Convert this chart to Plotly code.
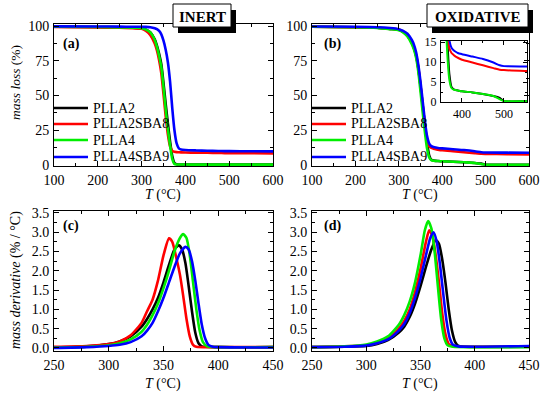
import plotly.graph_objects as go

W, H = 550, 393
FONT = "Liberation Serif"

series_names = ["PLLA2", "PLLA2SBA8", "PLLA4", "PLLA4SBA9"]
series_colors = ["#000000", "#ff0000", "#00ee00", "#0000ff"]

# ---- TGA (mass loss %) ----
T_tga = [100, 200, 250, 280, 300, 310, 320, 330, 335, 340, 345, 350, 355, 360, 365,
         370, 375, 380, 385, 390, 400, 425, 450, 475, 490, 500, 550, 600]

inert_PLLA2 = [99.5, 99.3, 99.1, 98.8, 98.5, 97.5, 95.5, 90.5, 86, 80, 72.5, 59, 44, 30, 17,
               6.5, 1.5, 0.5, 0.4, 0.4, 0.4, 0.35, 0.3, 0.3, 0.3, 0.3, 0.3, 0.3]
inert_PLLA2SBA8 = [99.3, 99.0, 98.8, 98.4, 98.0, 96.5, 93.5, 87.5, 82.5, 75.5, 66, 51, 35, 22, 13.5,
                   10.2, 9.5, 9.3, 9.2, 9.1, 9.0, 8.9, 8.8, 8.7, 8.6, 8.6, 8.5, 8.4]
inert_PLLA4 = [99.5, 99.3, 99.1, 98.8, 98.5, 97.5, 95.5, 90, 85, 78.5, 70.5, 56, 40, 26, 14,
               4.5, 0.8, 0.4, 0.35, 0.35, 0.35, 0.3, 0.3, 0.3, 0.3, 0.3, 0.3, 0.3]
inert_PLLA4SBA9 = [99.8, 99.7, 99.6, 99.5, 99.5, 99.4, 99.2, 98.5, 97.8, 96.5, 94, 89.5, 83, 74, 60,
                   41, 25, 15.5, 12, 11.2, 10.8, 10.5, 10.3, 10.1, 10.0, 10.0, 9.9, 9.8]

oxid_PLLA2 = [99.5, 99.2, 98.8, 98.0, 97.3, 95.8, 93, 88, 84, 78.5, 69.5, 57, 43, 29, 16,
              7, 3.8, 3.2, 3.0, 2.9, 2.7, 2.4, 2.0, 1.5, 1.0, 0.25, 0.2, 0.2]
oxid_PLLA2SBA8 = [99.5, 99.2, 98.8, 98.0, 97.5, 96, 93.5, 88.5, 84.5, 79, 70, 57, 43, 29, 18,
                  13.5, 12.3, 11.8, 11.4, 11.1, 10.6, 9.9, 9.2, 8.5, 8.1, 8.0, 7.8, 7.7]
oxid_PLLA4 = [99.5, 99.2, 98.7, 97.8, 97.0, 95.5, 92.5, 87, 83, 77, 67, 53, 38, 24, 12,
              5.5, 3.5, 3.1, 3.0, 2.9, 2.7, 2.4, 2.0, 1.5, 0.7, 0.25, 0.2, 0.2]
oxid_PLLA4SBA9 = [99.7, 99.5, 99.2, 98.6, 97.8, 96.5, 94.5, 90, 86.5, 81, 72, 60, 46, 32, 21,
                  15.5, 13.6, 13.0, 12.6, 12.3, 12.0, 11.4, 10.8, 9.9, 9.2, 9.0, 8.9, 8.8]

# ---- DTG (mass derivative %/°C) ----
T_c_PLLA2 = [250, 280, 300, 310, 320, 330, 335, 340, 345, 350, 355, 360, 364, 367, 370, 373, 376, 379, 382, 385, 400, 450]
c_PLLA2 = [0.01, 0.04, 0.1, 0.17, 0.3, 0.55, 0.75, 1.0, 1.3, 1.7, 2.15, 2.55, 2.66, 2.55, 2.2, 1.6, 0.95, 0.4, 0.12, 0.04, 0.02, 0.02]
T_c_PLLA2SBA8 = [250, 280, 300, 310, 320, 330, 335, 340, 345, 350, 355, 358, 362, 365, 368, 371, 374, 377, 380, 400, 450]
c_PLLA2SBA8 = [0.03, 0.05, 0.1, 0.17, 0.33, 0.65, 0.95, 1.25, 1.75, 2.4, 2.84, 2.75, 2.3, 1.9, 1.35, 0.75, 0.3, 0.08, 0.03, 0.02, 0.02]
T_c_PLLA4 = [250, 280, 300, 310, 320, 330, 335, 340, 345, 350, 355, 360, 365, 368, 371, 374, 377, 380, 383, 386, 390, 400, 450]
c_PLLA4 = [0.01, 0.03, 0.07, 0.12, 0.22, 0.42, 0.6, 0.85, 1.15, 1.55, 2.0, 2.5, 2.85, 2.95, 2.85, 2.4, 1.7, 1.0, 0.45, 0.15, 0.04, 0.02, 0.02]
T_c_PLLA4SBA9 = [250, 280, 300, 310, 320, 330, 335, 340, 345, 350, 355, 360, 365, 370, 373, 376, 379, 382, 385, 388, 391, 395, 400, 450]
c_PLLA4SBA9 = [0.0, 0.02, 0.05, 0.08, 0.15, 0.3, 0.45, 0.65, 0.95, 1.3, 1.7, 2.1, 2.45, 2.62, 2.55, 2.25, 1.75, 1.15, 0.6, 0.25, 0.08, 0.03, 0.02, 0.01]

T_d_PLLA2 = [250, 280, 300, 310, 320, 330, 335, 340, 345, 350, 355, 360, 364, 367, 370, 373, 376, 379, 382, 385, 390, 450]
d_PLLA2 = [0.02, 0.03, 0.05, 0.1, 0.2, 0.4, 0.55, 0.8, 1.15, 1.6, 2.1, 2.55, 2.8, 2.7, 2.3, 1.7, 1.0, 0.45, 0.15, 0.05, 0.03, 0.03]
T_d_PLLA2SBA8 = [250, 280, 300, 310, 320, 330, 335, 340, 345, 350, 355, 358, 361, 364, 367, 370, 373, 376, 380, 400, 450]
d_PLLA2SBA8 = [0.02, 0.04, 0.07, 0.13, 0.25, 0.5, 0.7, 1.0, 1.45, 2.05, 2.75, 3.05, 2.9, 2.4, 1.7, 0.9, 0.35, 0.1, 0.04, 0.03, 0.03]
T_d_PLLA4 = [250, 280, 300, 310, 320, 330, 335, 340, 345, 350, 354, 357, 360, 363, 366, 369, 372, 375, 380, 400, 450]
d_PLLA4 = [0.02, 0.04, 0.09, 0.17, 0.3, 0.6, 0.85, 1.2, 1.7, 2.4, 3.05, 3.29, 3.1, 2.5, 1.6, 0.75, 0.25, 0.07, 0.03, 0.02, 0.02]
T_d_PLLA4SBA9 = [250, 280, 300, 310, 320, 330, 335, 340, 345, 350, 355, 359, 362, 365, 368, 371, 374, 377, 380, 385, 400, 450]
d_PLLA4SBA9 = [0.02, 0.03, 0.06, 0.12, 0.22, 0.45, 0.62, 0.9, 1.3, 1.8, 2.4, 2.85, 3.0, 2.75, 2.15, 1.4, 0.7, 0.25, 0.08, 0.04, 0.03, 0.05]

# tick values / labels
tga_xticks = [100, 200, 300, 400, 500, 600]
tga_yticks = [0, 25, 50, 75, 100]
dtg_xticks = [250, 300, 350, 400, 450]
dtg_yticks = [0.0, 0.5, 1.0, 1.5, 2.0, 2.5, 3.0, 3.5]
inset_xticks = [400, 500]
inset_yticks = [0, 5, 10, 15]


def px(x):
    return x / W


def py(y):
    return 1 - y / H


fig = go.Figure()

inert = [inert_PLLA2, inert_PLLA2SBA8, inert_PLLA4, inert_PLLA4SBA9]
oxid = [oxid_PLLA2, oxid_PLLA2SBA8, oxid_PLLA4, oxid_PLLA4SBA9]
cT = [T_c_PLLA2, T_c_PLLA2SBA8, T_c_PLLA4, T_c_PLLA4SBA9]
cV = [c_PLLA2, c_PLLA2SBA8, c_PLLA4, c_PLLA4SBA9]
dT = [T_d_PLLA2, T_d_PLLA2SBA8, T_d_PLLA4, T_d_PLLA4SBA9]
dV = [d_PLLA2, d_PLLA2SBA8, d_PLLA4, d_PLLA4SBA9]

LW = 2.6
for i, name in enumerate(series_names):
    col = series_colors[i]
    line = dict(color=col, width=LW, shape="spline", smoothing=0.6)
    fig.add_trace(go.Scatter(x=T_tga, y=inert[i], mode="lines", name=name, line=line,
                             xaxis="x", yaxis="y", showlegend=False))
    fig.add_trace(go.Scatter(x=T_tga, y=oxid[i], mode="lines", name=name, line=line,
                             xaxis="x2", yaxis="y2", showlegend=False))
    fig.add_trace(go.Scatter(x=cT[i], y=cV[i], mode="lines", name=name, line=line,
                             xaxis="x3", yaxis="y3", showlegend=False))
    fig.add_trace(go.Scatter(x=dT[i], y=dV[i], mode="lines", name=name, line=line,
                             xaxis="x4", yaxis="y4", showlegend=False))
    fig.add_trace(go.Scatter(x=T_tga, y=oxid[i], mode="lines", name=name,
                             line=dict(color=col, width=2, shape="spline", smoothing=0.6),
                             xaxis="x5", yaxis="y5", showlegend=False))

tickfont = dict(family=FONT, size=14, color="black")


def ax(domain, rng, tickvals, minor_dtick, anchor, fmt=None, font=tickfont, ticklen=5, mlen=3):
    d = dict(domain=domain, range=rng, tickmode="array", tickvals=tickvals,
             ticks="inside", ticklen=ticklen, tickwidth=1, tickcolor="black",
             showline=True, linecolor="black", linewidth=1, mirror="ticks",
             showgrid=False, zeroline=False, tickfont=font, anchor=anchor,
             automargin=False, ticklabelstandoff=1,
             minor=dict(ticks="inside", ticklen=mlen, tickwidth=1, tickcolor="black",
                        dtick=minor_dtick, showgrid=False),
             fixedrange=True)
    if fmt:
        d["tickformat"] = fmt
    return d


# panel pixel boxes
A = (54, 273, 24, 166)
B = (312, 529, 24, 166)
C = (54, 273, 211, 351)
D = (312, 529, 211, 351)
I = (441, 527, 41, 102)


def xd(b):
    return [px(b[0]), px(b[1])]


def yd(b):
    return [py(b[3]), py(b[2])]


insetfont = dict(family=FONT, size=12, color="black")
fig.update_layout(
    xaxis=ax(xd(A), [100, 600], tga_xticks, 50, "y"),
    yaxis=ax(yd(A), [-0.7, 101.5], tga_yticks, 12.5, "x"),
    xaxis2=ax(xd(B), [100, 600], tga_xticks, 50, "y2"),
    yaxis2=ax(yd(B), [-0.7, 101.5], tga_yticks, 12.5, "x2"),
    xaxis3=ax(xd(C), [250, 450], dtg_xticks, 25, "y3"),
    yaxis3=ax(yd(C), [-0.08, 3.55], dtg_yticks, 0.25, "x3", fmt=".1f"),
    xaxis4=ax(xd(D), [250, 450], dtg_xticks, 25, "y4"),
    yaxis4=ax(yd(D), [-0.08, 3.55], dtg_yticks, 0.25, "x4", fmt=".1f"),
    xaxis5=ax(xd(I), [350, 555], inset_xticks, 50, "y5", font=insetfont, ticklen=4, mlen=2),
    yaxis5=ax(yd(I), [0, 15.3], inset_yticks, 2.5, "x5", font=insetfont, ticklen=4, mlen=2),
)

fig.update_layout(
    width=W, height=H, margin=dict(l=0, r=0, t=0, b=0),
    paper_bgcolor="white", plot_bgcolor="rgba(0,0,0,0)",
    font=dict(family=FONT, size=14, color="black"),
    showlegend=False,
)

shapes = []
annos = []

# legends drawn in panels (a) and (b)
leg_rows = [108, 124, 140, 157]
for (x0, x1, xt) in [(54, 88, 91), (312, 346, 349)]:
    for i, name in enumerate(series_names):
        y = leg_rows[i]
        shapes.append(dict(type="line", xref="paper", yref="paper", x0=px(x0), x1=px(x1),
                           y0=py(y), y1=py(y), line=dict(color=series_colors[i], width=2.6),
                           layer="above"))
        annos.append(dict(x=px(xt), y=py(y), xref="paper", yref="paper", text=name,
                          showarrow=False, xanchor="left", yanchor="middle",
                          font=dict(family=FONT, size=14, color="black")))


def label_box(x0, x1, y0, y1, text):
    shapes.append(dict(type="rect", xref="paper", yref="paper", x0=px(x0 + 5), x1=px(x1 + 5),
                       y0=py(y1 + 6), y1=py(y0 + 6), fillcolor="black", line=dict(width=0), layer="above"))
    shapes.append(dict(type="rect", xref="paper", yref="paper", x0=px(x0), x1=px(x1),
                       y0=py(y1), y1=py(y0), fillcolor="white", line=dict(color="black", width=1), layer="above"))
    annos.append(dict(x=px((x0 + x1) / 2), y=py((y0 + y1) / 2 + 1), xref="paper", yref="paper",
                      text="<b>%s</b>" % text, showarrow=False, xanchor="center", yanchor="middle",
                      font=dict(family=FONT, size=15, color="black")))


label_box(173, 231, 4, 27, "INERT")
label_box(427, 528, 4, 27, "OXIDATIVE")

for lab, (x, y) in zip(["(a)", "(b)", "(c)", "(d)"], [(71, 44), (332, 44), (71, 226), (332, 226)]):
    annos.append(dict(x=px(x), y=py(y), xref="paper", yref="paper", text="<b>%s</b>" % lab,
                      showarrow=False, xanchor="center", yanchor="middle",
                      font=dict(family=FONT, size=14, color="black")))

xtitle = "<i>T</i> (°C)"
for x, y in [(163, 195), (420, 195), (163, 384), (420, 384)]:
    annos.append(dict(x=px(x), y=py(y), xref="paper", yref="paper", text=xtitle,
                      showarrow=False, xanchor="center", yanchor="middle",
                      font=dict(family=FONT, size=14, color="black")))

annos.append(dict(x=px(16), y=py(83), xref="paper", yref="paper", text="<i>mass loss</i> (%)",
                  showarrow=False, textangle=-90, xanchor="center", yanchor="middle",
                  font=dict(family=FONT, size=13.5, color="black")))
annos.append(dict(x=px(16), y=py(280), xref="paper", yref="paper",
                  text="<i>mass derivative</i> (% / °C)",
                  showarrow=False, textangle=-90, xanchor="center", yanchor="middle",
                  font=dict(family=FONT, size=14, color="black")))

fig.update_layout(shapes=shapes, annotations=annos)

fig.write_html("out.html", config={"displayModeBar": False, "staticPlot": True},
               post_script="document.body.style.margin='0';")
